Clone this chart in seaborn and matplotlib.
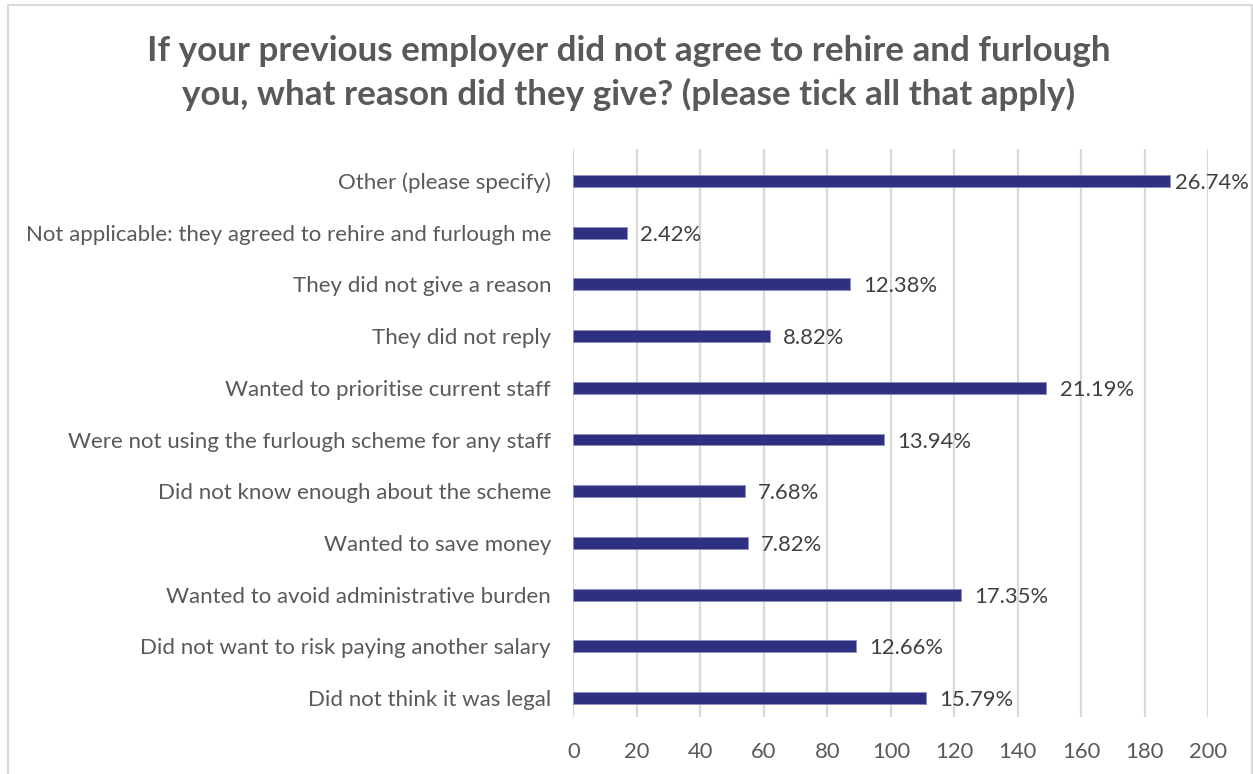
import matplotlib
matplotlib.use("Agg")
import matplotlib.pyplot as plt
from matplotlib.patches import Rectangle
import seaborn as sns
import pandas as pd

# Survey answers (multiple choice, tick all that apply)
reasons = [
    "Other (please specify)",
    "Not applicable: they agreed to rehire and furlough me",
    "They did not give a reason",
    "They did not reply",
    "Wanted to prioritise current staff",
    "Were not using the furlough scheme for any staff",
    "Did not know enough about the scheme",
    "Wanted to save money",
    "Wanted to avoid administrative burden",
    "Did not want to risk paying another salary",
    "Did not think it was legal",
]
percent = [26.74, 2.42, 12.38, 8.82, 21.19, 13.94, 7.68, 7.82, 17.35, 12.66, 15.79]
respondents = 703

# Response counts behind each percentage
counts = [round(p * respondents / 100) for p in percent]
pct_labels = [f"{p:.2f}%" for p in percent]
x_ticks = [0, 20, 40, 60, 80, 100, 120, 140, 160, 180, 200]

df = pd.DataFrame({"reason": reasons, "count": counts})

sns.set_theme(style="white")
plt.rcParams["font.family"] = ["Lato", "DejaVu Sans"]

W, H = 1253, 774
fig = plt.figure(figsize=(W / 100, H / 100), dpi=100)
ax = fig.add_axes([573.3 / W, (H - 717) / H, 635 / W, 568 / H])

sns.barplot(data=df, x="count", y="reason", orient="h", color="#2E3182",
            width=0.23, edgecolor="#8C8EC0", linewidth=0.6, saturation=1,
            ax=ax, zorder=3)

ax.set_xlim(0, 200)
ax.set_ylim(10.367, -0.619)
ax.set_xticks(x_ticks)
ax.set_xticklabels([str(t) for t in x_ticks])
ax.xaxis.grid(True, color="#D9D9D9", linewidth=1.6, zorder=0)
ax.yaxis.grid(False)
for s in ax.spines.values():
    s.set_visible(False)
ax.set_xlabel("")
ax.set_ylabel("")
ax.tick_params(axis="x", length=0, pad=18, labelsize=15.8, labelcolor="#595959")
ax.tick_params(axis="y", length=0, pad=16, labelsize=16, labelcolor="#595959")

# Value labels to the right of each bar, kept inside the chart frame
renderer = fig.canvas.get_renderer()
right_limit = 1249
for i, (c, lab) in enumerate(zip(counts, pct_labels)):
    t = ax.annotate(lab, xy=(c, i), xytext=(9.5, -1.5), textcoords="offset points",
                    ha="left", va="center", fontsize=15.8, color="#404040")
    bb = t.get_window_extent(renderer)
    if bb.x1 > right_limit:
        shift_pt = (bb.x1 - right_limit) * 72 / fig.dpi
        t.set_position((9.5 - shift_pt, -1.5))

fig.text(629 / W, 1 - 73 / H,
         "If your previous employer did not agree to rehire and furlough\n"
         "you, what reason did they give? (please tick all that apply)",
         ha="center", va="center", fontsize=25.2, fontweight="bold",
         color="#595959", linespacing=1.42)

# Chart frame
fig.patches.append(Rectangle((8 / W, -0.01), (1252 - 8) / W, 1.01 - 5 / H,
                             transform=fig.transFigure, fill=False,
                             edgecolor="#D9D9D9", linewidth=1.5))

fig.savefig("out.png", dpi=100, facecolor="white")
